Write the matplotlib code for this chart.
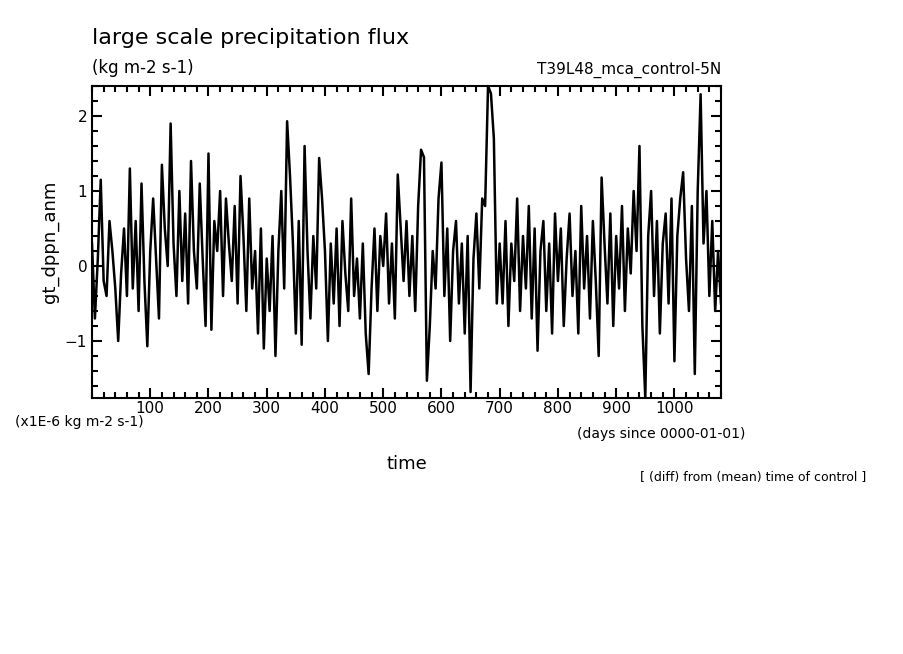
import numpy as np
import matplotlib
matplotlib.use("Agg")
import matplotlib.pyplot as plt
from matplotlib.ticker import MultipleLocator

days = np.arange(0, 1081, 5)
values = [0.3,-0.7,0.1,1.15,-0.2,-0.4,0.6,0.2,-0.3,-1.0,-0.1,0.5,-0.4,1.3,-0.3,0.6,-0.6,1.1,-0.2,-1.07,0.2,
 0.9,0.1,-0.7,1.35,0.5,0.0,1.9,0.3,-0.4,1.0,-0.2,0.7,-0.5,1.4,0.2,-0.3,1.1,0.1,-0.8,1.5,
 -0.85,0.6,0.2,1.0,-0.4,0.9,0.3,-0.2,0.8,-0.5,1.2,0.4,-0.6,0.9,-0.3,0.2,-0.9,0.5,-1.1,0.1,
 -0.6,0.4,-1.2,0.2,1.0,-0.3,1.93,1.2,0.3,-0.9,0.6,-1.05,1.6,0.2,-0.7,0.4,-0.3,1.44,0.9,0.2,
 -1.0,0.3,-0.5,0.5,-0.8,0.6,-0.1,-0.6,0.9,-0.4,0.1,-0.7,0.3,-0.9,-1.44,-0.3,0.5,-0.6,0.4,0.0,
 0.7,-0.5,0.3,-0.7,1.22,0.5,-0.2,0.6,-0.4,0.4,-0.6,0.8,1.55,1.45,-1.53,-0.8,0.2,-0.3,0.9,1.38,
 -0.4,0.5,-1.0,0.2,0.6,-0.5,0.3,-0.9,0.4,-1.68,0.1,0.7,-0.3,0.9,0.8,2.4,2.3,1.7,-0.5,0.3,
 -0.5,0.6,-0.8,0.3,-0.2,0.9,-0.6,0.4,-0.3,0.8,-0.7,0.5,-1.13,0.2,0.6,-0.6,0.3,-0.9,0.7,-0.2,
 0.5,-0.8,0.1,0.7,-0.4,0.2,-0.9,0.8,-0.3,0.4,-0.7,0.6,-0.2,-1.2,1.18,0.3,-0.5,0.7,-0.8,0.4,
 -0.3,0.8,-0.6,0.5,-0.1,1.0,0.2,1.6,-0.8,-1.76,0.4,1.0,-0.4,0.6,-0.9,0.3,0.7,-0.5,0.9,-1.27,
 0.4,0.9,1.25,0.1,-0.6,0.8,-1.44,1.0,2.29,0.3,1.0,-0.4,0.6,-0.6,0.2,-0.5]
xticks = [100, 200, 300, 400, 500, 600, 700, 800, 900, 1000]
yticks = [-1, 0, 1, 2]

W, H = 904, 654
fig = plt.figure(figsize=(W/100, H/100), dpi=100)
ax = fig.add_axes([92/W, 1-398/H, (721-92)/W, (398-86)/H])
ax.plot(days, values, color="black", lw=1.8)
ax.set_xlim(0, 1080)
ax.set_ylim(-1.76, 2.4)
ax.set_xticks(xticks)
ax.set_yticks(yticks)
ax.xaxis.set_minor_locator(MultipleLocator(20))
ax.yaxis.set_minor_locator(MultipleLocator(0.2))
ax.tick_params(which="both", direction="in", top=True, right=True, labelsize=11, width=1.5)
ax.tick_params(which="major", length=7)
ax.tick_params(which="minor", length=4)
ax.tick_params(axis="x", pad=2)
for s in ax.spines.values():
    s.set_linewidth(1.5)
ax.set_ylabel("gt_dppn_anm", fontsize=13)
ax.set_xlabel("time", fontsize=13, labelpad=28)

fig.text(92/W, 1-38/H, "large scale precipitation flux", fontsize=16, va="center")
fig.text(92/W, 1-68/H, "(kg m-2 s-1)", fontsize=12, va="center")
fig.text(721/W, 1-70/H, "T39L48_mca_control-5N", fontsize=11, va="center", ha="right")
fig.text(15/W, 1-422/H, "(x1E-6 kg m-2 s-1)", fontsize=10, va="center")
fig.text(745/W, 1-434/H, "(days since 0000-01-01)", fontsize=10, va="center", ha="right")
fig.text(866/W, 1-478/H, "[ (diff) from (mean) time of control ]", fontsize=9, va="center", ha="right")
fig.savefig("out.png", dpi=100)
